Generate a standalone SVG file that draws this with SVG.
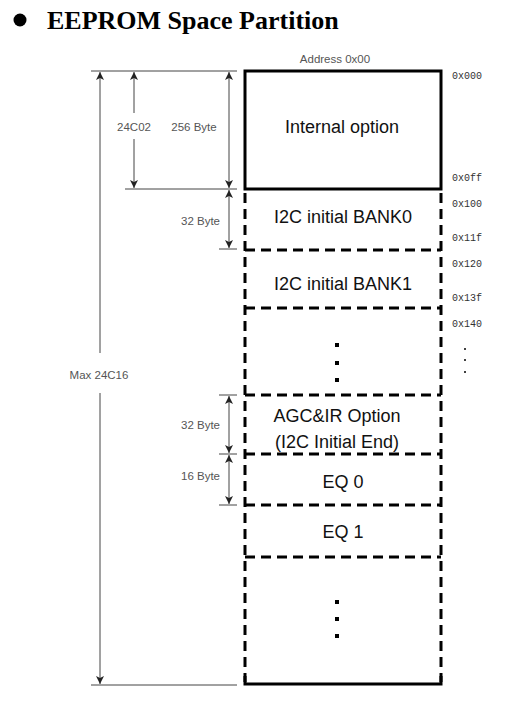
<svg xmlns="http://www.w3.org/2000/svg" width="513" height="707" viewBox="0 0 513 707">
<style>
.title{font-family:"Liberation Serif","Times New Roman",serif;font-weight:bold;font-size:26px;fill:#000}
.lbl{font-family:"Liberation Sans",Arial,sans-serif;font-size:18px;fill:#111;text-anchor:middle}
.dim{font-family:"Liberation Sans",Arial,sans-serif;font-size:11.5px;fill:#555}
.addr{font-family:"Liberation Mono","Courier New",monospace;font-size:10px;fill:#333}
.thin{stroke:#444;stroke-width:1;fill:none}
.solid{stroke:#000;stroke-width:3;fill:none}
.dash{stroke:#000;stroke-width:3;fill:none;stroke-dasharray:10 6}
.dot{fill:#000}
</style>
<defs>
<marker id="ah" viewBox="0 0 8 10" refX="8" refY="5" markerWidth="8" markerHeight="10" markerUnits="userSpaceOnUse" orient="auto-start-reverse">
<path d="M0,1 L8,5 L0,9 L2,5 Z" fill="#222"/>
</marker>
</defs>
<g id="title">
<circle cx="20" cy="20" r="6.5" fill="#000"/>
<text class="title" x="47" y="29">EEPROM Space Partition</text>
</g>
<text class="dim" x="335" y="63" text-anchor="middle">Address 0x00</text>
<g id="connectors">
<line class="thin" x1="91" y1="71" x2="237" y2="71"/>
<line class="thin" x1="125" y1="189" x2="237" y2="189"/>
<line class="thin" x1="219" y1="249" x2="237" y2="249"/>
<line class="thin" x1="219" y1="395" x2="237" y2="395"/>
<line class="thin" x1="219" y1="454" x2="237" y2="454"/>
<line class="thin" x1="219" y1="505" x2="237" y2="505"/>
<line class="thin" x1="91" y1="685" x2="237" y2="685"/>
<line class="thin" x1="100" y1="353" x2="100" y2="72" marker-end="url(#ah)"/>
<line class="thin" x1="100" y1="393" x2="100" y2="684" marker-end="url(#ah)"/>
<line class="thin" x1="134" y1="113" x2="134" y2="72" marker-end="url(#ah)"/>
<line class="thin" x1="134" y1="139" x2="134" y2="188" marker-end="url(#ah)"/>
<line class="thin" x1="229" y1="72" x2="229" y2="188" marker-start="url(#ah)" marker-end="url(#ah)"/>
<line class="thin" x1="229" y1="190" x2="229" y2="248" marker-start="url(#ah)" marker-end="url(#ah)"/>
<line class="thin" x1="229" y1="396" x2="229" y2="453" marker-start="url(#ah)" marker-end="url(#ah)"/>
<line class="thin" x1="229" y1="455" x2="229" y2="504" marker-start="url(#ah)" marker-end="url(#ah)"/>
</g>
<g id="dim-labels">
<text class="dim" x="134" y="131" text-anchor="middle">24C02</text>
<text class="dim" x="194" y="131" text-anchor="middle">256 Byte</text>
<text class="dim" x="220" y="225" text-anchor="end">32 Byte</text>
<text class="dim" x="220" y="429" text-anchor="end">32 Byte</text>
<text class="dim" x="220" y="480" text-anchor="end">16 Byte</text>
<text class="dim" x="99" y="379" text-anchor="middle">Max 24C16</text>
</g>
<g id="internal">
<path class="solid" d="M245,189 L245,71 L441,71 L441,189 Z"/>
<text class="lbl" x="342" y="133">Internal option</text>
</g>
<g id="sides">
<line class="dash" x1="245" y1="193" x2="245" y2="682"/>
<line class="dash" x1="441" y1="193" x2="441" y2="682"/>
<path class="solid" d="M245,676 L245,684 L441,684 L441,676"/>
</g>
<g id="bank0">
<text class="lbl" x="343" y="223">I2C initial BANK0</text>
</g>
<g id="bank1">
<line class="dash" x1="245" y1="250" x2="441" y2="250"/>
<text class="lbl" x="343" y="290">I2C initial BANK1</text>
<line class="dash" x1="245" y1="308" x2="441" y2="308"/>
</g>
<g id="gap1">
<rect class="dot" x="335" y="343" width="4" height="4"/>
<rect class="dot" x="335" y="361" width="4" height="4"/>
<rect class="dot" x="335" y="378" width="4" height="4"/>
</g>
<g id="agc">
<line class="dash" x1="245" y1="395" x2="441" y2="395"/>
<text class="lbl" x="337" y="422">AGC&amp;IR Option</text>
<text class="lbl" x="337" y="448">(I2C Initial End)</text>
</g>
<g id="eq0">
<line class="dash" x1="245" y1="454" x2="441" y2="454"/>
<text class="lbl" x="343" y="488">EQ 0</text>
</g>
<g id="eq1">
<line class="dash" x1="245" y1="505" x2="441" y2="505"/>
<text class="lbl" x="343" y="538">EQ 1</text>
<line class="dash" x1="245" y1="557" x2="441" y2="557"/>
</g>
<g id="gap2">
<rect class="dot" x="335" y="600" width="4" height="4"/>
<rect class="dot" x="335" y="617" width="4" height="4"/>
<rect class="dot" x="335" y="634" width="4" height="4"/>
</g>
<g id="addresses">
<text class="addr" x="452" y="79">0x000</text>
<text class="addr" x="452" y="181">0x0ff</text>
<text class="addr" x="452" y="207">0x100</text>
<text class="addr" x="452" y="241">0x11f</text>
<text class="addr" x="452" y="267">0x120</text>
<text class="addr" x="452" y="301">0x13f</text>
<text class="addr" x="452" y="327">0x140</text>
<circle cx="465" cy="349" r="1" fill="#000"/>
<circle cx="465" cy="360" r="1" fill="#000"/>
<circle cx="465" cy="372" r="1" fill="#000"/>
</g>
</svg>
